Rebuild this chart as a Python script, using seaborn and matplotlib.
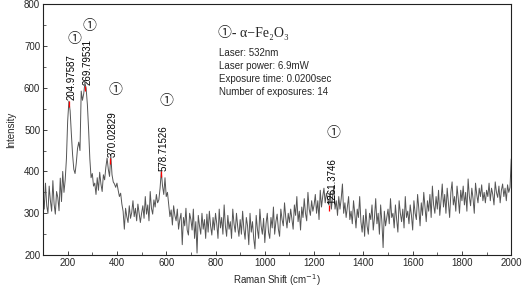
import numpy as np
import pandas as pd
import matplotlib
matplotlib.use("Agg")
import matplotlib.pyplot as plt
from matplotlib.ticker import MultipleLocator
import seaborn as sns

# Raman shift grid (cm-1), one point every 5 cm-1
shift = np.arange(100, 2001, 5)

# intensity, one row per 100 cm-1
intensity = [
    350, 310, 372, 318, 300, 365, 330, 305, 378, 322, 298, 352, 338, 306, 384, 328, 400, 350, 380, 430,
    520, 568, 545, 490, 440, 405, 395, 420, 455, 470, 450, 592, 570, 585, 612, 598, 560, 500, 430, 385,
    395, 365, 372, 345, 385, 355, 398, 370, 352, 392, 380, 410, 432, 405, 388, 440, 392, 375, 370, 362,
    372, 355, 340, 348, 322, 305, 262, 312, 292, 278, 318, 288, 302, 330, 292, 312, 282, 322, 300, 278,
    300, 318, 288, 340, 298, 320, 282, 352, 312, 298, 332, 315, 345, 325, 332, 360, 400, 365, 345, 385,
    340, 350, 322, 292, 308, 272, 318, 295, 282, 310, 262, 285, 300, 225, 290, 270, 312, 260, 248, 300,
    285, 260, 310, 240, 280, 205, 295, 270, 250, 300, 262, 285, 240, 298, 255, 305, 270, 248, 290, 260,
    300, 275, 240, 310, 265, 290, 250, 320, 270, 245, 295, 262, 280, 240, 310, 275, 255, 300, 268, 245,
    285, 250, 305, 262, 238, 290, 270, 225, 300, 255, 280, 240, 215, 295, 262, 240, 310, 270, 250, 288,
    230, 275, 300, 255, 240, 290, 265, 315, 250, 280, 298, 262, 245, 310, 285, 270, 325, 290, 265, 300,
    278, 310, 285, 262, 320, 295, 340, 280, 305, 260, 315, 290, 335, 300, 282, 350, 310, 295, 330, 305,
    320, 345, 300, 330, 285, 355, 315, 340, 360, 325, 348, 335, 320, 350, 310, 340, 365, 310, 330, 295,
    340, 310, 335, 370, 300, 325, 290, 315, 340, 285, 305, 275, 330, 300, 265, 310, 290, 340, 280, 255,
    295, 245, 310, 270, 250, 300, 285, 320, 260, 290, 335, 275, 300, 250, 320, 280, 218, 305, 270, 290,
    310, 275, 335, 290, 300, 265, 320, 285, 255, 330, 300, 280, 310, 265, 340, 290, 305, 275, 320, 295,
    260, 330, 300, 285, 345, 310, 270, 325, 295, 350, 315, 280, 330, 305, 345, 290, 365, 320, 300, 340,
    310, 355, 295, 330, 370, 315, 345, 300, 360, 325, 290, 350, 375, 320, 340, 305, 365, 335, 300, 355,
    330, 365, 320, 350, 305, 382, 340, 318, 360, 335, 300, 372, 345, 325, 360, 340, 368, 330, 350, 325,
    355, 340, 372, 330, 360, 345, 320, 375, 350, 338, 365, 325, 355, 370, 340, 360, 330, 368, 350, 362,
    430,
]

# labelled peaks
peak_pos = [204.97587, 269.79531, 370.02829, 578.71526, 1261.3746]
peak_int = [568, 605, 432, 400, 320]
peak_labels = ["204.97587", "269.79531", "370.02829", "578.71526", "1261.3746"]

# circled phase markers
marker_x = [226, 287, 392, 599, 1277]
marker_y = [716, 747, 594, 568, 492]

info_lines = ["Laser: 532nm", "Laser power: 6.9mW",
              "Exposure time: 0.0200sec", "Number of exposures: 14"]

df = pd.DataFrame({"shift": shift, "intensity": intensity})

sns.set_theme(style="ticks")
plt.rcParams["font.family"] = ["Liberation Sans", "DejaVu Sans"]
plt.rcParams["xtick.direction"] = "in"
plt.rcParams["ytick.direction"] = "in"

fig = plt.figure(figsize=(5.22, 2.87), dpi=100)
ax = fig.add_axes([0.0824, 0.111, 0.897, 0.875])

sns.lineplot(data=df, x="shift", y="intensity", ax=ax, color="#555555", linewidth=0.7)

# red peak markers and rotated labels
ax.vlines(peak_pos, [v - 14 for v in peak_int], peak_int, color="red", linewidth=0.9)
for px, py, lab in zip(peak_pos, peak_int, peak_labels):
    ax.text(px + 12, py + 2, lab, rotation=90, ha="center", va="bottom",
            fontsize=7, color="black")

for mx, my in zip(marker_x, marker_y):
    ax.text(mx, my, "\u2460", ha="center", va="center", fontsize=10,
            family=["Noto Sans CJK SC", "DejaVu Sans"])

ax.text(812, 731, "\u2460- \u03b1\u2212Fe\u2082O\u2083", ha="left", va="center", fontsize=10,
        family=["Liberation Serif", "Noto Sans CJK SC", "DejaVu Serif"])
for i, line in enumerate(info_lines):
    ax.text(814, 683 - i * 31, line, ha="left", va="center", fontsize=7)

ax.set_xlim(100, 2000)
ax.set_ylim(200, 800)
ax.xaxis.set_major_locator(MultipleLocator(200))
ax.xaxis.set_minor_locator(MultipleLocator(100))
ax.yaxis.set_major_locator(MultipleLocator(100))
ax.yaxis.set_minor_locator(MultipleLocator(50))
ax.tick_params(which="major", length=3, width=0.6, labelsize=7, pad=2)
ax.tick_params(which="minor", length=2, width=0.5)
for s in ax.spines.values():
    s.set_linewidth(0.8)
    s.set_color("#222222")

ax.set_xlabel("Raman Shift (cm$^{-1}$)", fontsize=7, labelpad=3)
ax.set_ylabel("Intensity", fontsize=7, labelpad=6)

fig.savefig("out.png", dpi=100)
